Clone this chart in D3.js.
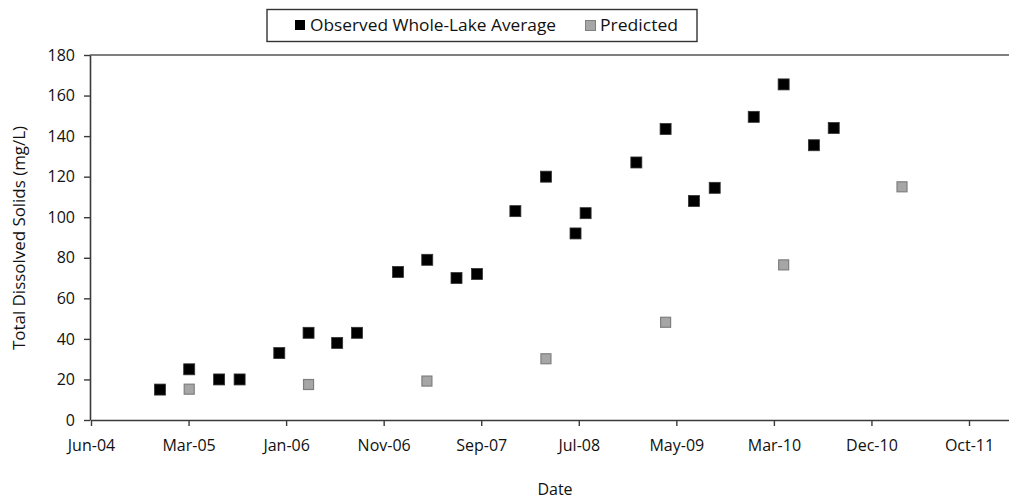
<!DOCTYPE html>
<html>
<head>
<meta charset="utf-8">
<script src="https://cdn.jsdelivr.net/npm/d3@7"></script>
<style>
  html, body { margin: 0; padding: 0; background: #fff; }
  svg { display: block; }
  text { font-family: "Open Sans", Lato, sans-serif; fill: #111; }
</style>
</head>
<body>
<svg id="chart" width="1009" height="500"></svg>
<script>
// ---- Data ----
const observedDates = [
  "2004-12-30","2005-03-30","2005-06-30","2005-09-01",
  "2006-01-01","2006-04-01","2006-06-28","2006-08-28",
  "2007-01-01","2007-04-01","2007-06-30","2007-09-01",
  "2007-12-28","2008-03-31","2008-06-30","2008-07-31",
  "2009-01-03","2009-04-03","2009-06-29","2009-09-01",
  "2009-12-30","2010-04-01","2010-07-03","2010-09-02"
];
const observedValues = [
  15, 25, 20, 20,
  33, 43, 38, 43,
  73, 79, 70, 72,
  103, 120, 92, 102,
  127, 143.5, 108, 114.5,
  149.5, 165.5, 135.5, 144
];
const predictedDates = [
  "2005-03-30","2006-04-01","2007-03-31","2008-03-31",
  "2009-04-03","2010-04-01","2011-03-31"
];
const predictedValues = [15.2, 17.5, 19.2, 30.2, 48.2, 76.5, 115];

const xTickDates = [
  "2004-06-01","2005-03-28","2006-01-22","2006-11-18","2007-09-14",
  "2008-07-10","2009-05-06","2010-03-02","2010-12-27","2011-10-23"
];
const xDomain = ["2004-06-01", "2012-02-23"];
const yTicks = [0, 20, 40, 60, 80, 100, 120, 140, 160, 180];
const seriesNames = ["Observed Whole-Lake Average", "Predicted"];

// ---- Chart ----
const parse = d3.utcParse("%Y-%m-%d");
const svg = d3.select("#chart");

const x = d3.scaleUtc()
  .domain(xDomain.map(parse))
  .range([91, 1009]);
const y = d3.scaleLinear()
  .domain([0, 180])
  .range([420, 55]);

const axisColor = "#3a3a3a";
const tickFont = 16;

// top border line at 180
svg.append("line")
  .attr("x1", 90).attr("x2", 1009)
  .attr("y1", y(180)).attr("y2", y(180))
  .attr("stroke", "#555").attr("stroke-width", 1.6);

// Y axis
const yAxis = svg.append("g")
  .attr("transform", "translate(90,0)")
  .call(d3.axisLeft(y).tickValues(yTicks).tickSize(6).tickSizeOuter(0).tickPadding(9));
yAxis.select(".domain").attr("stroke", axisColor).attr("stroke-width", 1.6);
yAxis.selectAll(".tick line").attr("stroke", axisColor).attr("stroke-width", 1.4);
yAxis.selectAll(".tick text")
  .attr("font-size", tickFont).attr("fill", "#111")
  .style("font-family", "'Open Sans', sans-serif");

// X axis
const xAxis = svg.append("g")
  .attr("transform", `translate(0,${y(0)})`)
  .call(d3.axisBottom(x)
    .tickValues(xTickDates.map(parse))
    .tickFormat(d3.utcFormat("%b-%y"))
    .tickSize(6).tickSizeOuter(0).tickPadding(14));
xAxis.select(".domain").attr("stroke", axisColor).attr("stroke-width", 1.6);
xAxis.selectAll(".tick line").attr("stroke", axisColor).attr("stroke-width", 1.4);
xAxis.selectAll(".tick text")
  .attr("font-size", tickFont).attr("fill", "#111")
  .style("font-family", "'Open Sans', sans-serif");

// Axis titles
svg.append("text")
  .attr("transform", `translate(25,${238}) rotate(-90)`)
  .attr("text-anchor", "middle")
  .attr("font-size", 16)
  .attr("textLength", 224).attr("lengthAdjust", "spacingAndGlyphs")
  .text("Total Dissolved Solids (mg/L)");
svg.append("text")
  .attr("x", 555).attr("y", 495)
  .attr("text-anchor", "middle")
  .attr("font-size", 16)
  .text("Date");

// Markers
const pred = predictedDates.map((d, i) => ({ date: parse(d), value: predictedValues[i] }));
const obs = observedDates.map((d, i) => ({ date: parse(d), value: observedValues[i] }));

const pSize = 10;
svg.append("g").selectAll("rect")
  .data(pred).join("rect")
  .attr("x", d => x(d.date) - pSize / 2)
  .attr("y", d => y(d.value) - pSize / 2)
  .attr("width", pSize).attr("height", pSize)
  .attr("fill", "#a6a6a6")
  .attr("stroke", "#7f7f7f").attr("stroke-width", 1.2);

const oSize = 11;
svg.append("g").selectAll("rect")
  .data(obs).join("rect")
  .attr("x", d => x(d.date) - oSize / 2)
  .attr("y", d => y(d.value) - oSize / 2)
  .attr("width", oSize).attr("height", oSize)
  .attr("fill", "#000")
  .attr("stroke", "#333").attr("stroke-width", 0.8);

// Legend
const legend = svg.append("g");
legend.append("rect")
  .attr("x", 267).attr("y", 9.5)
  .attr("width", 430).attr("height", 32)
  .attr("fill", "#fff")
  .attr("stroke", "#333").attr("stroke-width", 1.4);
legend.append("rect")
  .attr("x", 295).attr("y", 20)
  .attr("width", 10).attr("height", 10)
  .attr("fill", "#000");
legend.append("text")
  .attr("x", 310).attr("y", 31)
  .attr("font-size", 16)
  .attr("textLength", 246).attr("lengthAdjust", "spacingAndGlyphs")
  .text(seriesNames[0]);
legend.append("rect")
  .attr("x", 585.5).attr("y", 20.5)
  .attr("width", 10).attr("height", 10)
  .attr("fill", "#a6a6a6")
  .attr("stroke", "#7f7f7f").attr("stroke-width", 1);
legend.append("text")
  .attr("x", 600).attr("y", 31)
  .attr("font-size", 16)
  .attr("textLength", 78).attr("lengthAdjust", "spacingAndGlyphs")
  .text(seriesNames[1]);
</script>
</body>
</html>
